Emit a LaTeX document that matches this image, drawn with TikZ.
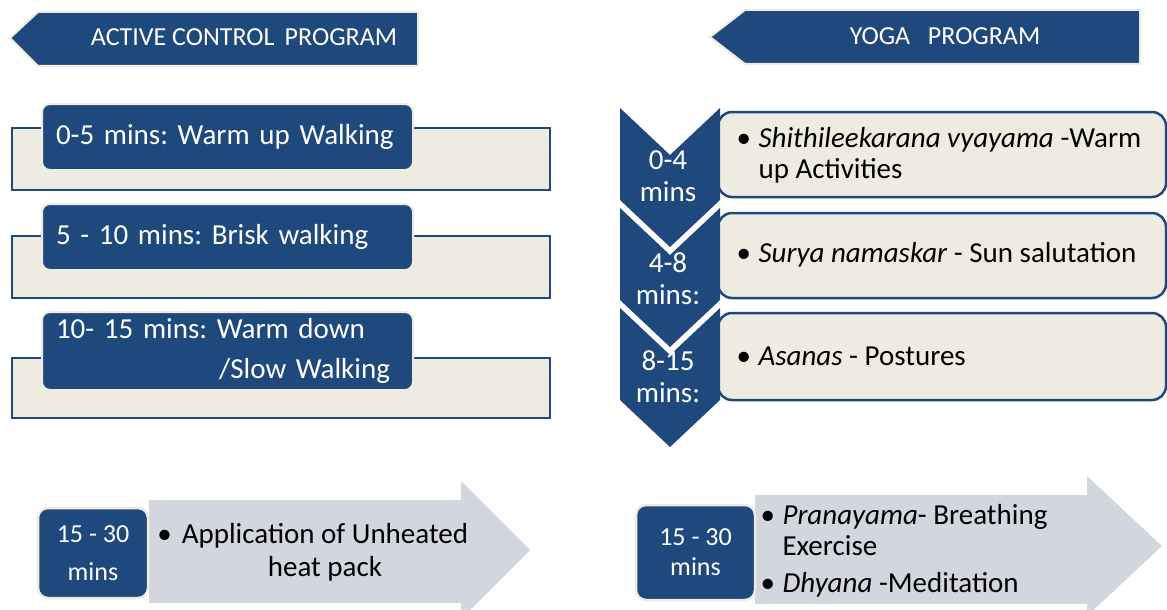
\documentclass[tikz,border=0pt]{standalone}
\usepackage{fontspec}
\setmainfont{Carlito}
\usetikzlibrary{positioning}
\definecolor{navy}{HTML}{1F497D}
\definecolor{sand}{HTML}{EEECE1}
\definecolor{mist}{HTML}{D3D6DE}
\frenchspacing
\hyphenpenalty=10000
\newcommand{\itembul}{\makebox[22pt][l]{\textbullet}}
\tikzset{
    headtag/.style = {fill=navy, draw=sand, line width=2pt},
    headtext/.style = {text=white, font=\fontsize{26}{30}\selectfont},
    backcell/.style = {fill=sand, draw=navy, line width=2.5pt},
    stepcell/.style = {rectangle, rounded corners=8pt, fill=navy, draw=sand, line width=2pt, text=white,
                       minimum width=371pt, inner xsep=14pt, text width=343pt, align=left,
                       font=\fontsize{29}{32}\selectfont},
    infocell/.style = {rounded corners=14pt, fill=sand, draw=navy, line width=2.5pt},
    chevfill/.style = {fill=navy},
    chevtext/.style = {text=white, align=center, font=\fontsize{29}{32}\selectfont},
    bodytext/.style = {text=black, align=left, font=\fontsize{29}{31}\selectfont},
    grayarrow/.style = {fill=mist},
    timecell/.style = {rectangle, rounded corners=10pt, fill=navy, draw=sand, line width=2.5pt, text=white,
                       align=center, font=\fontsize{26}{30}\selectfont}
}
\begin{document}
\begin{tikzpicture}[x=1pt, y=-1pt]
  \useasboundingbox (0,0) rectangle (1167,610);

  % headers
  \filldraw[headtag] (10,38) -- (38,12) -- (418,12) -- (418,66) -- (38,66) -- cycle;
  \node[headtext] (hdrA) at (244,37) {ACTIVE CONTROL\, PROGRAM};
  \filldraw[headtag] (710,37) -- (745,10) -- (1140,10) -- (1140,64) -- (745,64) -- cycle;
  \node[headtext] (hdrY) at (945,36) {YOGA\ \ \ PROGRAM};

  % active control steps
  \filldraw[backcell] (12,128) rectangle (550,190);
  \filldraw[backcell] (12,236) rectangle (550,298);
  \filldraw[backcell] (12,358) rectangle (550,418);
  \node[stepcell, minimum height=66pt] (stepA) at (227.5,137) {0-5 mins: Warm up Walking};
  \node[stepcell, minimum height=66pt] (stepB) at (227.5,237) {5 - 10 mins: Brisk walking};
  \node[stepcell, minimum height=78pt] (stepC) at (227.5,351)
    {10- 15 mins: Warm down\\[8pt]\hspace*{\fill}/Slow Walking\hspace*{9pt}};

  % yoga steps
  \filldraw[infocell] (718,112) rectangle (1166,197);
  \filldraw[infocell] (718,213) rectangle (1166,298);
  \filldraw[infocell] (718,313) rectangle (1166,400);
  \foreach \y in {108,208,308}
    \fill[chevfill] (620,\y) -- (670,\y+47) -- (720,\y) -- (720,\y+92) -- (670,\y+139) -- (620,\y+92) -- cycle;
  \node[chevtext] (chevA) at (668,176) {0-4\\mins};
  \node[chevtext] (chevB) at (668,279) {4-8\\mins:};
  \node[chevtext] (chevC) at (668,377) {8-15\\mins:};
  \node[bodytext, anchor=west] (yogaA) at (733,155)
    {\itembul\textit{Shithileekarana vyayama} -Warm\\\hspace*{22pt}up Activities};
  \node[bodytext, anchor=west] (yogaB) at (733,255) {\itembul\textit{Surya namaskar} - Sun salutation};
  \node[bodytext, anchor=west] (yogaC) at (733,356) {\itembul\textit{Asanas} - Postures};

  % final phase
  \fill[grayarrow] (149,500) -- (461,500) -- (461,481) -- (530,550) -- (461,619) -- (461,603) -- (149,603) -- cycle;
  \fill[grayarrow] (755,495) -- (1087,495) -- (1087,476) -- (1162,546) -- (1087,616) -- (1087,604) -- (755,604) -- cycle;
  \node[timecell, minimum width=110pt, minimum height=90pt] (timeA) at (93,553) {15 - 30\\[8pt]mins};
  \node[timecell, minimum width=119pt, minimum height=95pt] (timeY) at (695.5,552.5) {15 - 30\\mins};
  \node[bodytext, align=center] (infoA) at (325,552)
    {\llap{\textbullet\hspace{10pt}}Application of Unheated\\[2pt]heat pack};
  \node[bodytext, anchor=west] (infoY) at (757,551)
    {\itembul\textit{Pranayama}- Breathing\\\hspace*{22pt}Exercise\\[6pt]\itembul\textit{Dhyana} -Meditation};
\end{tikzpicture}
\end{document}
